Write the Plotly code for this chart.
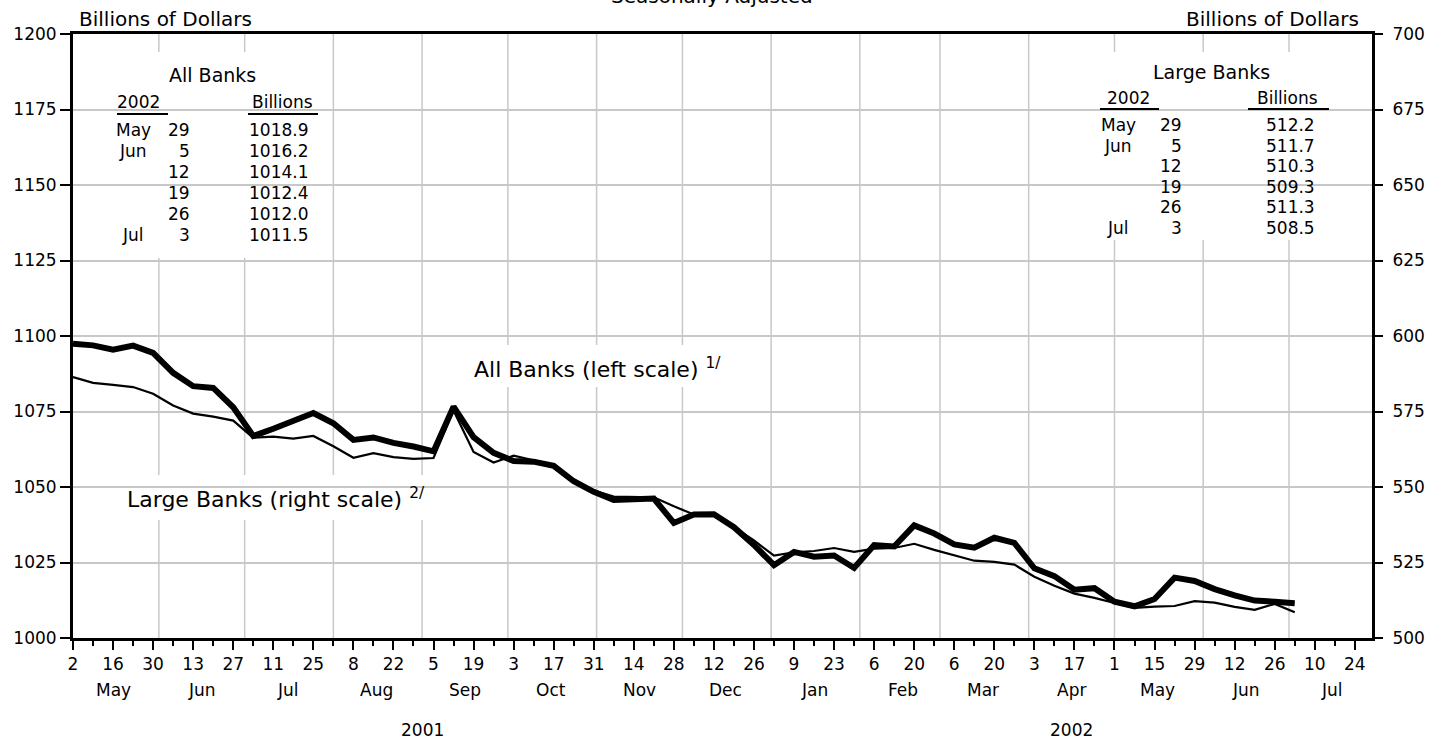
import pandas as pd
import plotly.graph_objects as go

# ---------------- data ----------------
dates = pd.date_range("2001-05-02", periods=62, freq="7D")

all_banks = [
    1097.4, 1096.9, 1095.5, 1096.8, 1094.4, 1087.8, 1083.4, 1082.8, 1076.4, 1066.9,
    1069.3, 1071.8, 1074.5, 1071.1, 1065.6, 1066.4, 1064.6, 1063.4, 1061.8, 1076.6,
    1066.5, 1061.3, 1058.6, 1058.4, 1057.0, 1051.9, 1048.4, 1045.7, 1045.9, 1046.2,
    1038.1, 1040.9, 1041.0, 1036.7, 1030.8, 1024.1, 1028.5, 1026.9, 1027.3, 1023.2,
    1030.8, 1030.3, 1037.3, 1034.6, 1031.0, 1029.9, 1033.2, 1031.5, 1023.1, 1020.5,
    1016.0, 1016.5, 1012.0, 1010.5, 1012.9, 1020.0, 1018.9, 1016.2, 1014.1, 1012.4,
    1012.0, 1011.5,
]
large_banks = [
    586.4, 584.5, 583.8, 583.1, 580.9, 577.0, 574.3, 573.3, 572.0, 566.3,
    566.7, 566.0, 566.9, 563.5, 559.7, 561.2, 559.9, 559.3, 559.6, 575.3,
    561.6, 558.1, 560.4, 558.9, 557.3, 552.5, 548.8, 546.8, 546.8, 546.6,
    543.6, 540.9, 541.1, 536.8, 532.3, 527.3, 528.4, 528.8, 529.8, 528.5,
    529.6, 529.8, 531.2, 529.2, 527.3, 525.6, 525.2, 524.3, 520.3, 517.3,
    514.7, 513.3, 511.6, 510.0, 510.4, 510.6, 512.2, 511.7, 510.3, 509.3,
    511.3, 508.5,
]

tick_dates = pd.date_range("2001-05-02", "2002-07-24", freq="14D")
day_labels = ["2", "16", "30", "13", "27", "11", "25", "8", "22", "5", "19", "3",
              "17", "31", "14", "28", "12", "26", "9", "23", "6", "20", "6", "20",
              "3", "17", "1", "15", "29", "12", "26", "10", "24"]
month_names = ["May", "Jun", "Jul", "Aug", "Sep", "Oct", "Nov", "Dec",
               "Jan", "Feb", "Mar", "Apr", "May", "Jun", "Jul"]
month_mid = pd.date_range("2001-05-01", periods=15, freq="MS") + pd.Timedelta(days=15)
month_starts = pd.date_range("2001-06-01", "2002-07-01", freq="MS")
year_labels = ["2001", "2002"]
year_pos = ["2001-09-01", "2002-04-16"]

table_months = ["May", "Jun", "", "", "", "Jul"]
table_days = ["29", "5", "12", "19", "26", "3"]

x_end = "2002-07-30"

# ---------------- layout helpers ----------------
W, H = 1449, 740
L, R, T, B = 73, 77, 34, 102
PW, PH = W - L - R, H - T - B
FONT = "DejaVu Sans"


def px(x):
    return (x - L) / PW


def py(y):
    return (H - B - y) / PH


fig = go.Figure()
fig.add_trace(go.Scatter(x=dates, y=all_banks, mode="lines", yaxis="y",
                         line=dict(color="black", width=6), hoverinfo="skip",
                         showlegend=False))
fig.add_trace(go.Scatter(x=dates, y=large_banks, mode="lines", yaxis="y2",
                         line=dict(color="black", width=2.2), hoverinfo="skip",
                         showlegend=False))

shapes = []
# vertical month grid lines
for d in month_starts:
    shapes.append(dict(type="line", xref="x", yref="paper", x0=d, x1=d, y0=0, y1=1,
                       line=dict(color="#c8c8c8", width=1.5), layer="below"))
# white boxes behind text blocks
for (x0, x1, y0, y1) in [(87, 320, 258, 52), (1085, 1337, 240, 52),
                         (425, 770, 387, 345), (85, 467, 520, 475)]:
    shapes.append(dict(type="rect", xref="paper", yref="paper",
                       x0=px(x0), x1=px(x1), y0=py(y0), y1=py(y1),
                       fillcolor="white", line=dict(width=0), layer="between"))
# underlines in tables
for (x0, x1, y) in [(117, 168, 114), (248, 318, 114), (1100, 1159, 109), (1248, 1329, 109)]:
    shapes.append(dict(type="line", xref="paper", yref="paper",
                       x0=px(x0), x1=px(x1), y0=py(y), y1=py(y),
                       line=dict(color="black", width=2), layer="above"))

ann = []


def text(s, x, y, size=17, xa="center", ya="middle"):
    if not s:
        return
    ann.append(dict(text=s, x=px(x), y=py(y), xref="paper", yref="paper",
                    showarrow=False, xanchor=xa, yanchor=ya,
                    font=dict(family=FONT, size=size, color="black")))


# top texts
text("Seasonally Adjusted", 712, -4, size=20)
text("Billions of Dollars", 77, 19, size=20, xa="left")
text("Billions of Dollars", 1361, 19, size=20, xa="right")

# series labels
text("All Banks (left scale) <sup>1/</sup>", 597, 368, size=22)
text("Large Banks (right scale) <sup>2/</sup>", 276, 498, size=22)

# All Banks table
text("All Banks", 212, 75, size=19)
text("2002", 138, 102)
text("Billions", 282, 102)
for k in range(6):
    yy = 130 + 21 * k
    text(table_months[k], 133, yy)
    text(table_days[k], 192, yy, xa="right")
    text(f"{all_banks[-6 + k]:.1f}", 310, yy, xa="right")

# Large Banks table
text("Large Banks", 1211, 72, size=19)
text("2002", 1128, 98)
text("Billions", 1287, 98)
for k in range(6):
    yy = 125 + 20.6 * k
    text(table_months[k], 1118, yy)
    text(table_days[k], 1184, yy, xa="right")
    text(f"{large_banks[-6 + k]:.1f}", 1317, yy, xa="right")

# month & year labels
for name, d in zip(month_names, month_mid):
    ann.append(dict(text=name, x=d, y=py(690), xref="x", yref="paper",
                    showarrow=False, xanchor="center", yanchor="middle",
                    font=dict(family=FONT, size=17, color="black")))
for name, d in zip(year_labels, year_pos):
    ann.append(dict(text=name, x=d, y=py(730), xref="x", yref="paper",
                    showarrow=False, xanchor="center", yanchor="middle",
                    font=dict(family=FONT, size=17, color="black")))

tickfont = dict(family=FONT, size=17, color="black")
fig.update_layout(
    width=W, height=H,
    margin=dict(l=L, r=R, t=T, b=B, pad=0),
    paper_bgcolor="white", plot_bgcolor="white",
    showlegend=False,
    shapes=shapes, annotations=ann,
    xaxis=dict(type="date", range=[dates[0], x_end],
               tickmode="array", tickvals=tick_dates, ticktext=day_labels,
               ticks="outside", ticklen=9, tickwidth=1.5, tickcolor="black",
               showgrid=False, zeroline=False,
               showline=True, linewidth=3, linecolor="black", mirror=True,
               tickfont=tickfont, tickangle=0,
               minor=dict(ticks="outside", ticklen=5, tickwidth=1.5, tickcolor="black",
                          dtick=7 * 24 * 3600 * 1000, tick0="2001-05-02", showgrid=False)),
    yaxis=dict(range=[1000, 1200], tick0=1000, dtick=25,
               ticks="outside", ticklen=10, tickwidth=1.5, tickcolor="black",
               showgrid=True, gridcolor="#c8c8c8", gridwidth=1.5, zeroline=False,
               showline=True, linewidth=3, linecolor="black", mirror=True,
               tickfont=tickfont),
    yaxis2=dict(range=[500, 700], tick0=500, dtick=25, overlaying="y", side="right",
                ticks="outside", ticklen=10, tickwidth=1.5, tickcolor="black",
                showgrid=False, zeroline=False, showline=False,
                tickfont=tickfont, ticklabelstandoff=6),
)

fig.write_html("out.html", config={"displayModeBar": False},
               post_script="document.body.style.margin='0';")
